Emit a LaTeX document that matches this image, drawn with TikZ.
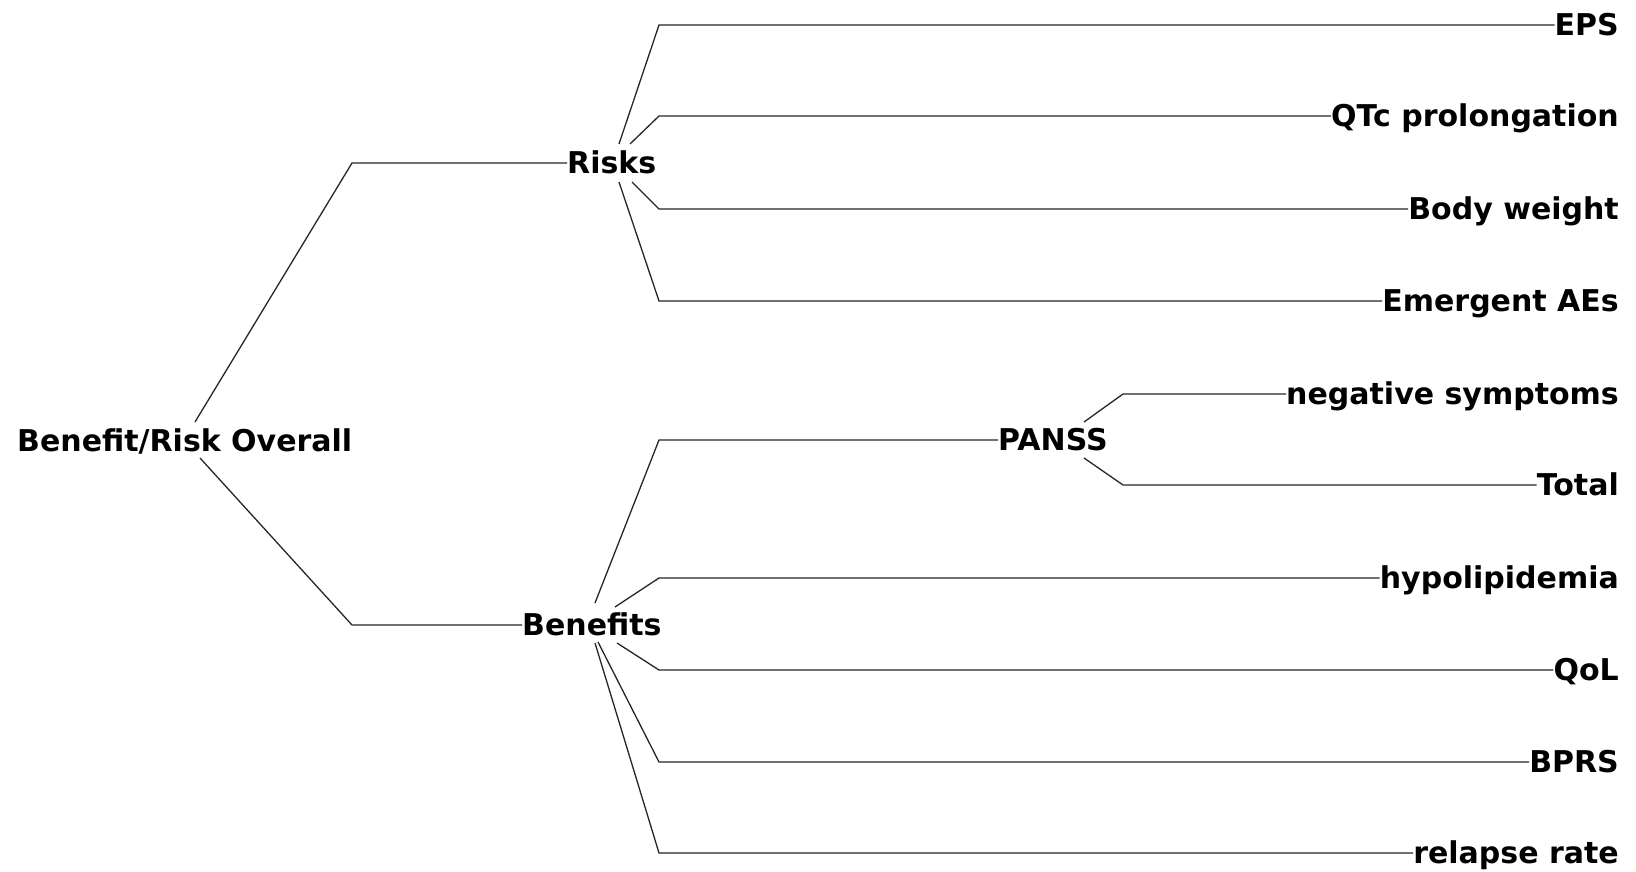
\documentclass[tikz,border=0pt]{standalone}
\usepackage{fontspec}
\setmainfont{DejaVu Sans}
\usetikzlibrary{calc}
\begin{document}
\begin{tikzpicture}[x=1pt,y=-1pt,
  lbl/.style={inner sep=0pt, text height=21.8pt, text depth=0pt,
    font=\fontsize{30}{35}\selectfont\bfseries},
  leaf/.style={lbl, anchor=east},
  branch/.style={lbl, anchor=west},
  link/.style={line width=1.3pt, draw=black!85, line join=miter}]
\useasboundingbox (0,0) rectangle (1636,872);

% inner nodes of the tree
\node[branch] (root) at (17,441) {Benefit/Risk Overall};
\node[branch] (risks) at (567,163) {Risks};
\node[branch] (benefits) at (522,625) {Benefits};
\node[branch] (panss) at (998,440) {PANSS};

% leaves, right aligned
\node[leaf] (eps) at (1619,25) {EPS};
\node[leaf] (qtc) at (1619,116) {QTc prolongation};
\node[leaf] (bw) at (1619,209) {Body weight};
\node[leaf] (ae) at (1619,301) {Emergent AEs};
\node[leaf] (neg) at (1619,394) {negative symptoms};
\node[leaf] (tot) at (1619,485) {Total};
\node[leaf] (hypo) at (1619,578) {hypolipidemia};
\node[leaf] (qol) at (1619,670) {QoL};
\node[leaf] (bprs) at (1619,762) {BPRS};
\node[leaf] (rel) at (1619,853) {relapse rate};

% columns where the connectors turn horizontal
\coordinate (rootx) at (352,0);
\coordinate (levx) at (659,0);
\coordinate (panssx) at (1123,0);

% root -> groups
\draw[link] ($(root.west)+(178,-19)$) -- (risks.west -| rootx) -- (risks.west);
\draw[link] ($(root.west)+(183,17)$) -- (benefits.west -| rootx) -- (benefits.west);

% risks
\draw[link] ($(risks.west)+(52,-19)$) -- (eps.west -| levx) -- (eps.west);
\draw[link] ($(risks.west)+(63,-19)$) -- (qtc.west -| levx) -- (qtc.west);
\draw[link] ($(risks.west)+(65,19)$) -- (bw.west -| levx) -- (bw.west);
\draw[link] ($(risks.west)+(52,19)$) -- (ae.west -| levx) -- (ae.west);

% benefits
\draw[link] ($(benefits.west)+(73,-22)$) -- (panss.west -| levx) -- (panss.west);
\draw[link] ($(benefits.west)+(93,-18)$) -- (hypo.west -| levx) -- (hypo.west);
\draw[link] ($(benefits.west)+(95,18)$) -- (qol.west -| levx) -- (qol.west);
\draw[link] ($(benefits.west)+(76,17)$) -- (bprs.west -| levx) -- (bprs.west);
\draw[link] ($(benefits.west)+(73,18)$) -- (rel.west -| levx) -- (rel.west);

% PANSS
\draw[link] ($(panss.west)+(86,-18)$) -- (neg.west -| panssx) -- (neg.west);
\draw[link] ($(panss.west)+(86,18)$) -- (tot.west -| panssx) -- (tot.west);
\end{tikzpicture}
\end{document}
